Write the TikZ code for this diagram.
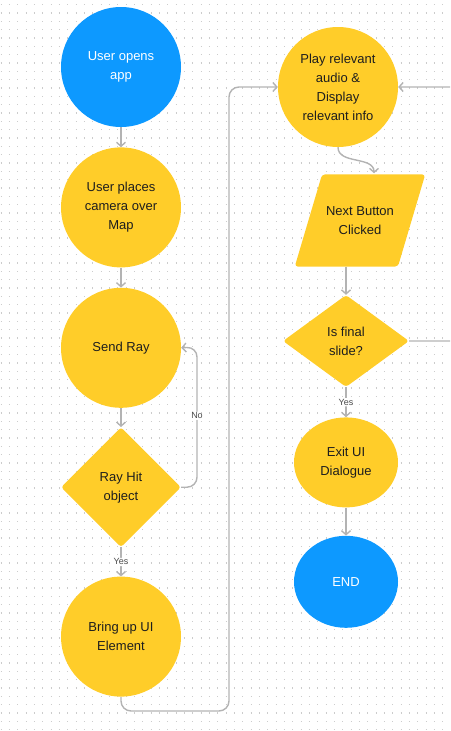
\documentclass[tikz,border=0pt]{standalone}
\usepackage{fontspec}
\setmainfont{Liberation Sans}
\usepackage{tikz}
\usetikzlibrary{shapes.geometric,arrows.meta,positioning,calc}
\definecolor{stepyellow}{RGB}{255,205,41}
\definecolor{termblue}{RGB}{13,153,255}
\definecolor{linegrey}{RGB}{179,179,179}
\definecolor{inkdark}{RGB}{30,30,30}
\definecolor{dotgrey}{RGB}{204,204,204}

\begin{document}
\begin{tikzpicture}[x=1pt, y=-1pt, font=\fontsize{13}{19}\selectfont,
  stepnode/.style={circle, fill=stepyellow, text=inkdark, align=center, inner sep=0pt, minimum size=120pt},
  termnode/.style={circle, fill=termblue, text=white, align=center, inner sep=0pt, minimum size=120pt},
  stepoval/.style={ellipse, fill=stepyellow, text=inkdark, align=center, inner sep=0pt, minimum width=104pt, minimum height=90pt},
  termoval/.style={ellipse, fill=termblue, text=white, align=center, inner sep=0pt, minimum width=104pt, minimum height=92pt},
  check/.style={diamond, fill=stepyellow, rounded corners=3pt, text=inkdark, align=center, inner sep=0pt},
  io/.style={trapezium, trapezium left angle=73.5, trapezium right angle=106.5, trapezium stretches body, fill=stepyellow, rounded corners=3pt, text=inkdark, align=center, inner xsep=4pt, inner ysep=32pt, minimum width=130pt},
  arr/.style={-{Straight Barb[length=4pt,width=9pt]}, line width=1.4pt, draw=linegrey, rounded corners=10pt},
  lbl/.style={fill=white, inner sep=1pt, text=black!70, font=\fontsize{9}{10}\selectfont},
  dotrow/.style={draw=dotgrey, line width=1.2pt, dash pattern=on 1.2pt off 7.133pt}]
\useasboundingbox (0,0) rectangle (450,731);
\clip (0,0) rectangle (450,731);
% dotted canvas
\foreach \r in {0,...,87}
  \draw[dotrow] (0.6,4.7+8.333*\r) -- (450,4.7+8.333*\r);

% left column
\node[termnode] (start) at (121,67) {User opens\\app};
\node[stepnode, below=20pt of start] (place) {User places\\camera over\\Map};
\node[stepnode, below=20pt of place] (send) {Send Ray};
\node[check, minimum width=120pt, minimum height=120pt, below=19pt of send] (hit) {Ray Hit\\object};
\node[stepnode, below=29pt of hit] (bring) {Bring up UI\\Element};

% right column
\node[stepnode] (play) at (338,87) {Play relevant\\audio \&\\Display\\relevant info};
\node[io] (next) at (360,220.5) {Next Button\\Clicked};
\node[check, minimum width=126pt, minimum height=92pt] (final) at (346,341) {Is final\\slide?};
\node[stepoval, below=30pt of final] (exit) {Exit UI\\Dialogue};
\node[termoval, below=28pt of exit] (finish) {END};

\coordinate (noturn) at (197,347);
\coordinate (backx) at (229,711);

\draw[arr] (start) -- (place);
\draw[arr] (place) -- (send);
\draw[arr] (send) -- (hit);
\draw[arr] (hit.east) -| node[lbl, pos=0.755] {No} (noturn) -- (send.east);
\draw[arr] (hit) -- node[lbl] {Yes} (bring);
\draw[arr] (bring.south) |- (backx) |- (play.west);
\draw[arr] (play.south) to[out=-90, in=90] ($(next.north)+(14,-1)$);
\draw[arr] (final.north |- next.south) -- (final.north);
\draw[arr] (final.east) -- ++(60,0) |- (play.east);
\draw[arr] (final) -- node[lbl] {Yes} (exit);
\draw[arr] (exit) -- (finish);
\end{tikzpicture}
\end{document}
